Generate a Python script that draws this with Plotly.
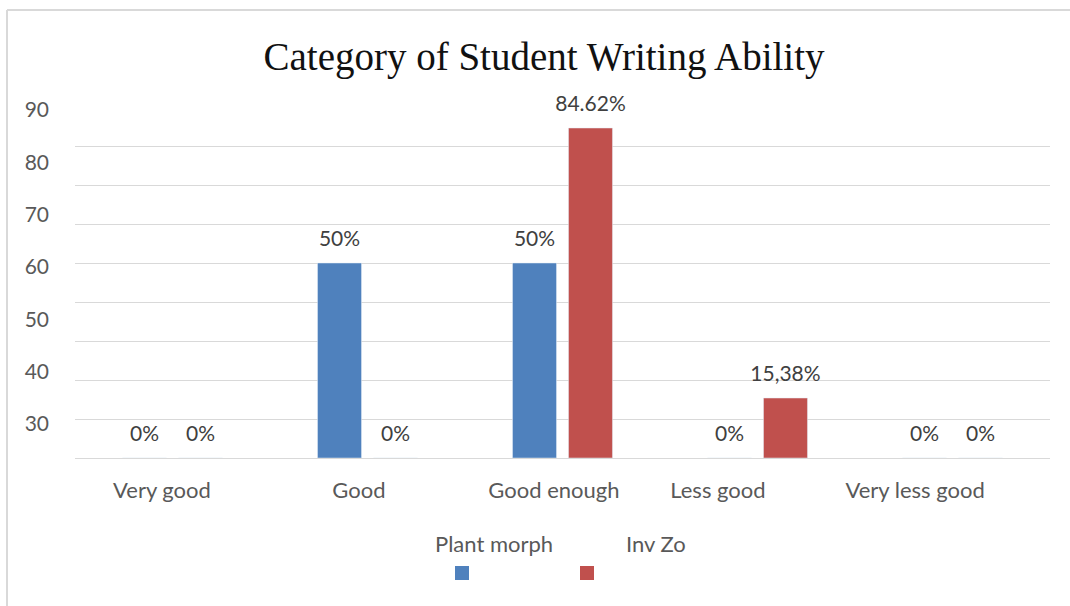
import plotly.graph_objects as go

# ---------------- data ----------------
categories = ["Very good", "Good", "Good enough", "Less good", "Very less good"]
series_names = ["Plant morph", "Inv Zo"]
plant_morph = [0, 50, 50, 0, 0]
inv_zo = [0, 0, 84.62, 15.38, 0]
plant_labels = ["0%", "50%", "50%", "0%", "0%"]
inv_labels = ["0%", "0%", "84.62%", "15,38%", "0%"]
y_tick_labels = [30, 40, 50, 60, 70, 80, 90]
grid_values = [0, 10, 20, 30, 40, 50, 60, 70, 80]

# ---------------- layout constants ----------------
W, H = 1070, 606
PL, PR, PT, PB = 75, 1050, 100, 458          # plot area in pixels
Y1_RANGE = [0, 91.8]
Y2_RANGE = [23.5, 91.9]
X_LABEL_POS = [-0.054, 0.956, 1.956, 2.797, 3.808]  # tick label placement (category units)
COLORS = ["#4F81BD", "#C0504D"]
GRID = "#D9D9D9"
TXT = "#595959"
FONT = "Lato"


def px_x(x):
    return (x - PL) / (PR - PL)


def px_y(y):
    return (PB - y) / (PB - PT)


fig = go.Figure()
for name, vals, col, grp in [(series_names[0], plant_morph, COLORS[0], "a"),
                             (series_names[1], inv_zo, COLORS[1], "b")]:
    fig.add_trace(go.Bar(x=categories, y=vals, name=name, marker_color=col,
                         offsetgroup=grp, showlegend=False, hoverinfo="skip"))

for name, vals, labels, grp in [(series_names[0], plant_morph, plant_labels, "a"),
                                (series_names[1], inv_zo, inv_labels, "b")]:
    fig.add_trace(go.Scatter(x=categories, y=vals, text=labels, mode="markers+text",
                             textposition="top center", offsetgroup=grp,
                             marker=dict(size=17, opacity=0), showlegend=False,
                             textfont=dict(family=FONT, size=21, color="#404040"),
                             cliponaxis=False, hoverinfo="skip", name=name))

# invisible trace to activate secondary axes
fig.add_trace(go.Scatter(x=[None], y=[None], xaxis="x2", yaxis="y2",
                         showlegend=False, hoverinfo="skip"))

shapes = [
    dict(type="line", xref="paper", yref="paper", x0=px_x(7), x1=px_x(7),
         y0=px_y(10), y1=px_y(606), line=dict(color=GRID, width=2)),
    dict(type="line", xref="paper", yref="paper", x0=px_x(7), x1=px_x(1070),
         y0=px_y(10), y1=px_y(10), line=dict(color=GRID, width=2)),
    dict(type="rect", xref="paper", yref="paper", x0=px_x(455), x1=px_x(469),
         y0=px_y(580), y1=px_y(566), fillcolor=COLORS[0], line=dict(width=0)),
    dict(type="rect", xref="paper", yref="paper", x0=px_x(580), x1=px_x(594),
         y0=px_y(580), y1=px_y(566), fillcolor=COLORS[1], line=dict(width=0)),
]

annotations = [
    dict(text=series_names[0], xref="paper", yref="paper", x=px_x(494), y=px_y(543),
         showarrow=False, xanchor="center", yanchor="middle",
         font=dict(family=FONT, size=22, color=TXT)),
    dict(text=series_names[1], xref="paper", yref="paper", x=px_x(656), y=px_y(543),
         showarrow=False, xanchor="center", yanchor="middle",
         font=dict(family=FONT, size=22, color=TXT)),
]

fig.update_layout(
    width=W, height=H,
    margin=dict(l=PL, r=W - PR, t=PT, b=H - PB, pad=0),
    paper_bgcolor="white", plot_bgcolor="white",
    barmode="group", bargap=0.426, bargroupgap=0.214,
    scattermode="group", scattergap=0.426,
    title=dict(text="Category of Student Writing Ability", xref="container", yref="container",
               x=544 / W, y=1 - 56 / H, xanchor="center", yanchor="middle",
               font=dict(family="Liberation Serif", size=39, color="#111111")),
    xaxis=dict(type="category", showticklabels=False, showgrid=False, zeroline=False,
               showline=False, ticks=""),
    xaxis2=dict(overlaying="x", anchor="y", side="bottom", range=[-0.5, 4.5],
                tickmode="array", tickvals=X_LABEL_POS, ticktext=categories,
                showgrid=False, zeroline=False, showline=False, ticks="",
                ticklabelstandoff=17, tickfont=dict(family=FONT, size=22, color=TXT)),
    yaxis=dict(range=Y1_RANGE, tickmode="array", tickvals=grid_values, showticklabels=False,
               showgrid=True, gridcolor=GRID, gridwidth=1, zeroline=True,
               zerolinecolor=GRID, zerolinewidth=1, ticks=""),
    yaxis2=dict(overlaying="y", side="left", anchor="x", range=Y2_RANGE,
                tickmode="array", tickvals=y_tick_labels,
                ticktext=[str(v) for v in y_tick_labels],
                showgrid=False, zeroline=False, showline=False, ticks="",
                ticklabelstandoff=25, tickfont=dict(family=FONT, size=21, color=TXT)),
    shapes=shapes,
    annotations=annotations,
)

fig.write_html("out.html")
